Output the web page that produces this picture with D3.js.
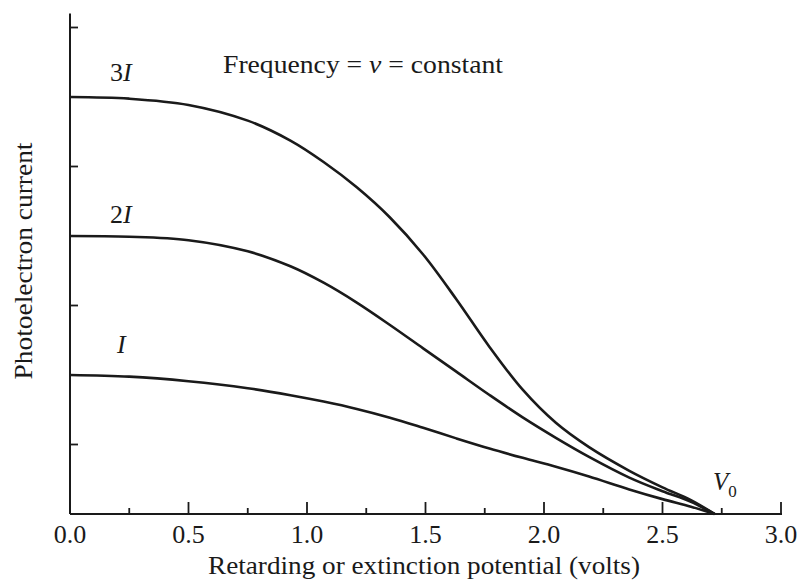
<!DOCTYPE html>
<html><head><meta charset="utf-8">
<script src="https://cdn.jsdelivr.net/npm/d3@7"></script>
<style>body{margin:0;background:#fff}svg{display:block}text{font-family:"Liberation Serif","Times New Roman",serif;fill:#1a1a1a}</style>
</head><body><svg id="c" width="801" height="580"></svg>
<script>
const voltages  = [0, 0.25, 0.5, 0.75, 0.93, 1.07, 1.21, 1.35, 1.49, 1.63, 1.77, 1.91, 2.05, 2.19, 2.36, 2.5, 2.62, 2.72];
const currentI  = [1.0, 0.988, 0.955, 0.905, 0.855, 0.809, 0.756, 0.693, 0.62, 0.544, 0.471, 0.404, 0.34, 0.27, 0.177, 0.107, 0.053, 0];
const current2I = [2.0, 1.995, 1.97, 1.89, 1.782, 1.664, 1.521, 1.36, 1.192, 1.024, 0.856, 0.695, 0.548, 0.411, 0.262, 0.164, 0.088, 0];
const current3I = [3.0, 2.988, 2.943, 2.83, 2.686, 2.532, 2.35, 2.133, 1.867, 1.545, 1.202, 0.894, 0.656, 0.481, 0.311, 0.192, 0.1, 0];
const seriesLabels = ["I", "2I", "3I"];
const xTickLabels = ["0.0", "0.5", "1.0", "1.5", "2.0", "2.5", "3.0"];
const xMinorTicks = [0.25, 0.75, 1.25, 1.75, 2.25, 2.75];
const yTicks = [0.5, 1.5, 2.5, 3.5];

const svg = d3.select("#c");
const x = d3.scaleLinear().domain([0, 3]).range([70, 781]);
const y = d3.scaleLinear().domain([0, 3.6]).range([514, 13.6]);
const ink = "#1a1a1a";

// axes lines
svg.append("line").attr("x1", x(0)).attr("x2", x(3) + 1).attr("y1", y(0)).attr("y2", y(0))
  .attr("stroke", ink).attr("stroke-width", 2);
svg.append("line").attr("x1", x(0)).attr("x2", x(0)).attr("y1", y(0)).attr("y2", y(3.6))
  .attr("stroke", ink).attr("stroke-width", 2);

// x ticks
const xMajor = xTickLabels.map(Number);
svg.selectAll(".xt").data(xMajor).enter().append("line")
  .attr("x1", d => x(d)).attr("x2", d => x(d)).attr("y1", y(0)).attr("y2", y(0) - 12)
  .attr("stroke", ink).attr("stroke-width", 1.8);
svg.selectAll(".xm").data(xMinorTicks).enter().append("line")
  .attr("x1", d => x(d)).attr("x2", d => x(d)).attr("y1", y(0)).attr("y2", y(0) - 6)
  .attr("stroke", ink).attr("stroke-width", 1.8);
svg.selectAll(".xl").data(xTickLabels).enter().append("text")
  .attr("x", d => x(+d)).attr("y", 543).attr("text-anchor", "middle")
  .attr("font-size", 26).text(d => d);

// y ticks
svg.selectAll(".yt").data(yTicks).enter().append("line")
  .attr("x1", x(0)).attr("x2", x(0) + 8).attr("y1", d => y(d)).attr("y2", d => y(d))
  .attr("stroke", ink).attr("stroke-width", 1.8);

// titles
svg.append("text").attr("x", 424).attr("y", 574).attr("text-anchor", "middle")
  .attr("font-size", 25).attr("textLength", 432).attr("lengthAdjust", "spacingAndGlyphs")
  .text("Retarding or extinction potential (volts)");
svg.append("text").attr("transform", "translate(32,261) rotate(-90)").attr("text-anchor", "middle")
  .attr("font-size", 25).attr("textLength", 237).attr("lengthAdjust", "spacingAndGlyphs")
  .text("Photoelectron current");

// annotation
const ann = svg.append("text").attr("x", 223).attr("y", 73).attr("font-size", 25)
  .attr("textLength", 280).attr("lengthAdjust", "spacingAndGlyphs");
ann.append("tspan").text("Frequency = ");
ann.append("tspan").attr("font-style", "italic").text("ν");
ann.append("tspan").text(" = constant");

// curves
const line = d3.line().x(d => x(d[0])).y(d => y(d[1])).curve(d3.curveCatmullRom.alpha(0.5));
const series = [currentI, current2I, current3I];
series.forEach(vals => {
  svg.append("path").datum(voltages.map((v, i) => [v, vals[i]]))
    .attr("d", line).attr("fill", "none").attr("stroke", ink).attr("stroke-width", 2.6)
    .attr("stroke-linejoin", "round");
});

// curve labels
const labelPos = [[117, 353], [110, 223], [110, 81]];
seriesLabels.forEach((lab, i) => {
  const t = svg.append("text").attr("x", labelPos[i][0]).attr("y", labelPos[i][1]).attr("font-size", 26);
  const m = lab.match(/^(\d*)(I)$/);
  if (m[1]) t.append("tspan").text(m[1]);
  t.append("tspan").attr("font-style", "italic").text(m[2]);
});

// V0 label
const v0 = svg.append("text").attr("x", 713).attr("y", 490).attr("font-size", 25);
v0.append("tspan").attr("font-style", "italic").text("V");
v0.append("tspan").attr("font-size", 17).attr("dy", 7).text("0");
</script></body></html>
